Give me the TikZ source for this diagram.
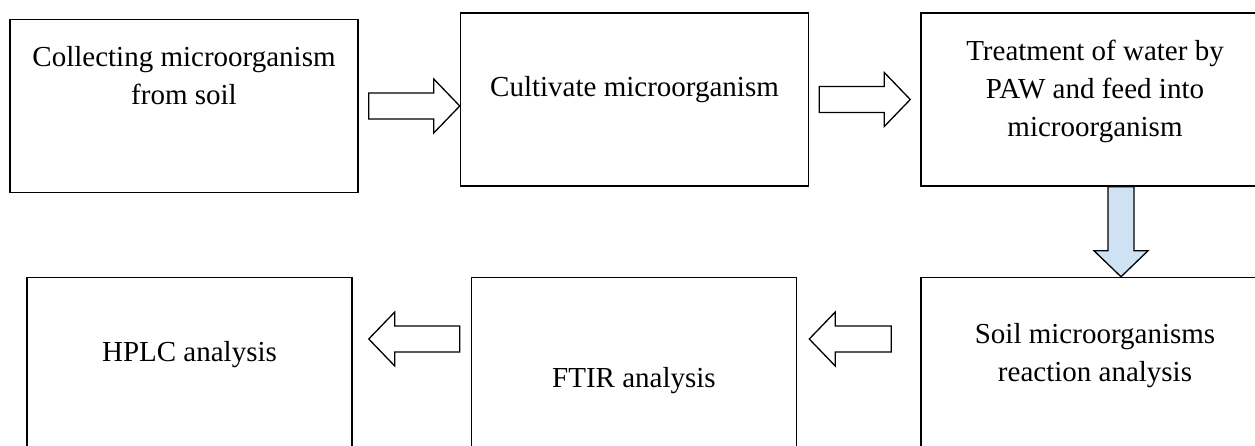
\documentclass[tikz,border=0pt]{standalone}
\usepackage{fontspec}
\setmainfont{Liberation Serif}
\usetikzlibrary{positioning}
\usetikzlibrary{calc}

\definecolor{arrowblue}{RGB}{207,226,243}

\begin{document}
\begin{tikzpicture}[x=1pt, y=-1pt,
    stepbox/.style={draw, line width=1.5pt, inner sep=0pt, minimum width=348pt, minimum height=173pt},
    narrowbox/.style={minimum width=325pt},
    steptext/.style={align=center, inner sep=0pt, font=\fontsize{29pt}{38pt}\selectfont},
    fatarrow/.style={draw, line width=1.3pt, fill=white, to path={
        let \p1=(\tikztostart), \p2=(\tikztotarget),
            \n1={(\x2-\x1)/veclen(\x2-\x1,\y2-\y1)},
            \n2={(\y2-\y1)/veclen(\x2-\x1,\y2-\y1)} in
        ({\x1-\n2*13pt},{\y1+\n1*13pt})
        -- ({\x2-\n1*26pt-\n2*13pt},{\y2-\n2*26pt+\n1*13pt})
        -- ({\x2-\n1*26pt-\n2*27pt},{\y2-\n2*26pt+\n1*27pt})
        -- (\x2,\y2)
        -- ({\x2-\n1*26pt+\n2*27pt},{\y2-\n2*26pt-\n1*27pt})
        -- ({\x2-\n1*26pt+\n2*13pt},{\y2-\n2*26pt-\n1*13pt})
        -- ({\x1+\n2*13pt},{\y1-\n1*13pt}) -- cycle}}]
    \useasboundingbox (0,0) rectangle (1255,445);
    \clip (0,0) rectangle (1255,445);
    % top row
    \node [stepbox] (collect) at (184,106) {};
    \node [stepbox, right=101pt of collect, yshift=6.5pt] (cultivate) {};
    \node [stepbox, right=111pt of cultivate] (treat) {};
    % bottom row
    \node [stepbox, below=90pt of treat] (soil) {};
    \node [stepbox, narrowbox, left=123pt of soil] (ftir) {};
    \node [stepbox, narrowbox, left=118pt of ftir] (hplc) {};
    % texts
    \node [steptext, below=27.5pt of collect.north] (collecttxt) {Collecting microorganism\\from soil};
    \node [steptext, below=64pt of cultivate.north] (cultivatetxt) {Cultivate microorganism};
    \node [steptext, below=28pt of treat.north] (treattxt) {Treatment of water by\\PAW and feed into\\microorganism};
    \node [steptext, below=46pt of soil.north] (soiltxt) {Soil microorganisms\\reaction analysis};
    \node [steptext, below=90pt of ftir.north] (ftirtxt) {FTIR analysis};
    \node [steptext, below=64pt of hplc.north] (hplctxt) {HPLC analysis};
    % arrows
    \draw [fatarrow] ([xshift=10pt]collect.east) to (collect.east -| cultivate.west);
    \draw [fatarrow] ([xshift=10pt]cultivate.east) to ([xshift=-10pt]treat.west);
    \draw [fatarrow, fill=arrowblue] ([xshift=26pt]treat.south) to ([xshift=26pt]soil.north);
    \draw [fatarrow] ([xshift=-29pt,yshift=25pt]soil.west) to ([xshift=12pt,yshift=25pt]ftir.east);
    \draw [fatarrow] ([xshift=-11pt,yshift=25pt]ftir.west) to ([xshift=16pt,yshift=25pt]hplc.east);
\end{tikzpicture}
\end{document}
